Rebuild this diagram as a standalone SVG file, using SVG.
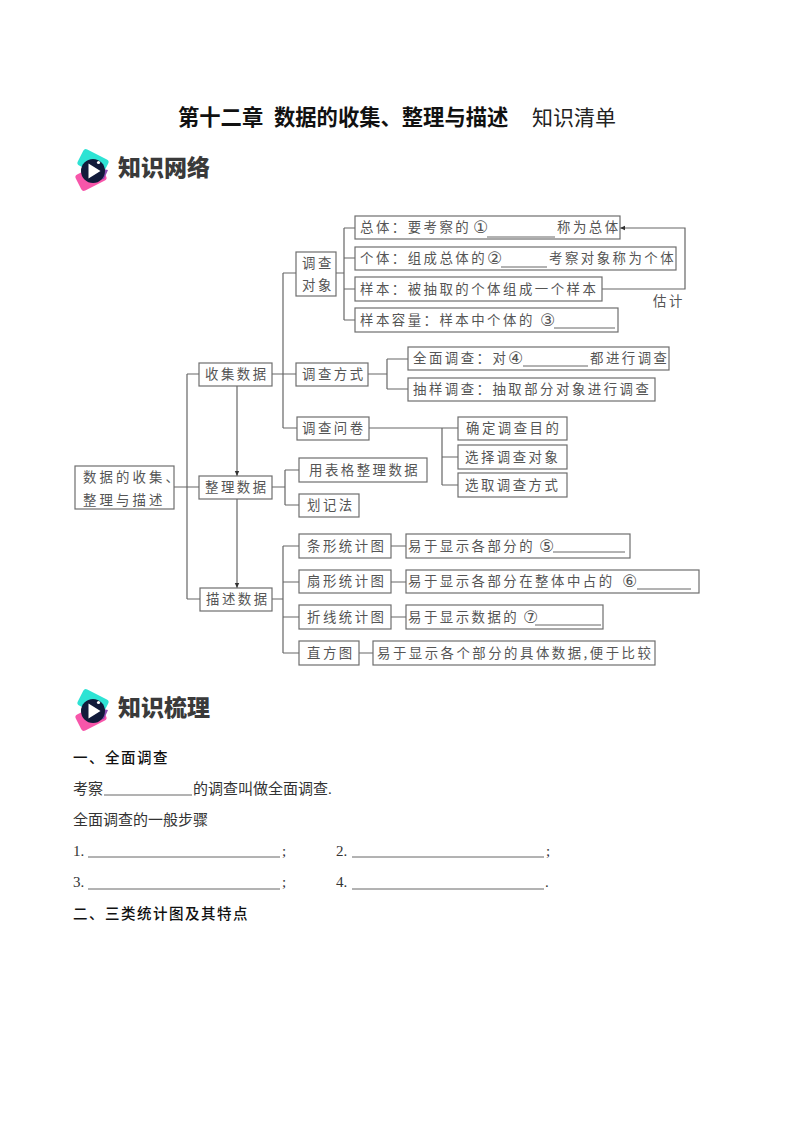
<svg xmlns="http://www.w3.org/2000/svg" xmlns:xlink="http://www.w3.org/1999/xlink" width="794" height="1123" viewBox="0 0 794 1123">
<style>
text{font-family:"Liberation Serif","Noto Sans CJK SC",serif;fill:#222}
.t{font-size:21.3px;font-weight:700;fill:#111}
.t2{font-size:21px;font-family:"Noto Sans CJK SC",sans-serif;fill:#222}
.h{font-size:23px;font-family:"Noto Sans CJK SC",sans-serif;font-weight:900;fill:#3a3a3a}
.b{font-size:14.5px;font-family:"Noto Sans CJK SC",sans-serif;font-weight:500;fill:#111;letter-spacing:1.5px}
.p{font-size:15px;font-family:"Liberation Serif","Noto Sans CJK SC",serif;fill:#333}
.n{font-size:13.4px;font-family:"Noto Sans CJK SC",sans-serif;fill:#555;letter-spacing:2.5px}
.c{font-size:17px;font-family:"DejaVu Sans",sans-serif;fill:#555}
.box{fill:#fff;stroke:#6e6e6e;stroke-width:1.2}
.ln{fill:none;stroke:#666;stroke-width:1.2}
.ul{stroke:#555;stroke-width:.9}
</style>
<defs>
<marker id="ah" markerWidth="6" markerHeight="6" refX="5" refY="3" orient="auto" markerUnits="userSpaceOnUse"><path d="M0 .8L5 3L0 5.2z" fill="#333"/></marker>
<g id="logo">
<rect x="-14" y="-9" width="28" height="18" rx="3" transform="translate(93 162.500) rotate(27)" fill="#2ee3d4"/>
<rect x="-14" y="-9" width="28" height="18" rx="3" transform="translate(91 177.500) rotate(-27)" fill="#f756aa"/>
<path d="M97 168L108 170L104 179L93 181z" fill="#8a4db0"/>
<circle cx="93" cy="171" r="12" fill="#111a3a"/>
<path d="M88.500 163.500L100.500 171L88.500 178.500z" fill="#fff"/>
<circle cx="98.500" cy="162.500" r="1.600" fill="#fff"/>
</g>
</defs>
<rect width="794" height="1123" fill="#fff"/>
<text class="t" x="178" y="125">第十二章</text>
<text class="t" x="274" y="125">数据的收集、整理与描述</text>
<text class="t2" x="532" y="125">知识清单</text>
<g id="logo1"><use xlink:href="#logo" href="#logo"/><text class="h" x="118" y="176">知识网络</text></g>
<g id="connectors">
<path class="ln" d="M174 487H199M187 374V599M187 374H199M187 599H200"/>
<path class="ln" d="M237 386V476" marker-end="url(#ah)"/>
<path class="ln" d="M237 499V588" marker-end="url(#ah)"/>
<path class="ln" d="M272 374H296M283 273V428M283 273H296M283 428H297"/>
<path class="ln" d="M336 273H344M344 228V320M344 228H355M344 258H355M344 289H355M344 320H355"/>
<path class="ln" d="M368 374H387M387 359V389M387 359H408M387 389H408"/>
<path class="ln" d="M369 428H458M442 428V485M442 457H458M442 485H458"/>
<path class="ln" d="M272 487H285M285 470V505M285 470H299M285 505H299"/>
<path class="ln" d="M272 599H283M283 546V653M283 546H299M283 582H299M283 617H299M283 653H299"/>
<path class="ln" d="M391 546H406M391 582H406M391 617H406M359 653H373"/>
<path class="ln" d="M602 289H685V228H620" marker-end="url(#ah)"/>
</g>
<g id="root"><rect class="box" x="75" y="466" width="99" height="43"/><text class="n" x="83" y="482" style="letter-spacing:3.1px">数据的收集、</text><text class="n" x="83" y="505" style="letter-spacing:3.1px">整理与描述</text></g>
<g id="collect"><rect class="box" x="199" y="363" width="73" height="23"/><text class="n" x="205" y="379">收集数据</text></g>
<g id="organize"><rect class="box" x="199" y="476" width="73" height="23"/><text class="n" x="205" y="492">整理数据</text></g>
<g id="describe"><rect class="box" x="200" y="588" width="72" height="23"/><text class="n" x="206" y="604">描述数据</text></g>
<g id="object"><rect class="box" x="296" y="252" width="40" height="44"/><text class="n" x="302" y="268">调查</text><text class="n" x="302" y="290">对象</text></g>
<g id="method"><rect class="box" x="296" y="363" width="72" height="23"/><text class="n" x="302" y="379">调查方式</text></g>
<g id="survey"><rect class="box" x="297" y="417" width="72" height="23"/><text class="n" x="302" y="433">调查问卷</text></g>
<g id="pop"><rect class="box" x="355" y="216" width="265" height="23"/><text class="n" x="360" y="232">总体：要考察的</text><text class="c" x="473" y="233">①</text><line class="ul" x1="487" y1="237" x2="555" y2="237"/><text class="n" x="557" y="232">称为总体</text></g>
<g id="indiv"><rect class="box" x="355" y="247" width="321" height="23"/><text class="n" x="360" y="263">个体：组成总体的</text><text class="c" x="487" y="264">②</text><line class="ul" x1="501" y1="267" x2="547" y2="267"/><text class="n" x="549" y="263">考察对象称为个体</text></g>
<g id="sample"><rect class="box" x="355" y="277" width="247" height="24"/><text class="n" x="360" y="294">样本：被抽取的个体组成一个样本</text></g>
<g id="size"><rect class="box" x="355" y="308" width="263" height="24"/><text class="n" x="360" y="325">样本容量：样本中个体的</text><text class="c" x="540" y="326">③</text><line class="ul" x1="554" y1="328" x2="615" y2="328"/></g>
<g id="estimate"><text class="n" x="653" y="306">估计</text></g>
<g id="census"><rect class="box" x="408" y="347" width="261" height="23"/><text class="n" x="413" y="363">全面调查：对</text><text class="c" x="508" y="364">④</text><line class="ul" x1="523" y1="366" x2="588" y2="366"/><text class="n" x="590" y="363">都进行调查</text></g>
<g id="sampling"><rect class="box" x="408" y="378" width="247" height="23"/><text class="n" x="413" y="394">抽样调查：抽取部分对象进行调查</text></g>
<g id="q1"><rect class="box" x="458" y="417" width="109" height="23"/><text class="n" x="466" y="433">确定调查目的</text></g>
<g id="q2"><rect class="box" x="458" y="445" width="109" height="24"/><text class="n" x="465" y="462">选择调查对象</text></g>
<g id="q3"><rect class="box" x="458" y="473" width="109" height="24"/><text class="n" x="465" y="490">选取调查方式</text></g>
<g id="table"><rect class="box" x="299" y="458" width="128" height="24"/><text class="n" x="309" y="475">用表格整理数据</text></g>
<g id="tally"><rect class="box" x="299" y="494" width="60" height="23"/><text class="n" x="307" y="510">划记法</text></g>
<g id="bar"><rect class="box" x="299" y="534" width="92" height="24"/><text class="n" x="307" y="551">条形统计图</text></g>
<g id="pie"><rect class="box" x="299" y="570" width="92" height="23"/><text class="n" x="307" y="586">扇形统计图</text></g>
<g id="line"><rect class="box" x="299" y="605" width="92" height="24"/><text class="n" x="307" y="622">折线统计图</text></g>
<g id="hist"><rect class="box" x="299" y="641" width="60" height="24"/><text class="n" x="307" y="658">直方图</text></g>
<g id="bar-d"><rect class="box" x="406" y="534" width="224" height="24"/><text class="n" x="408" y="551">易于显示各部分的</text><text class="c" x="539" y="552">⑤</text><line class="ul" x1="553" y1="552" x2="625" y2="552"/></g>
<g id="pie-d"><rect class="box" x="406" y="570" width="293" height="23"/><text class="n" x="408" y="586">易于显示各部分在整体中占的</text><text class="c" x="622" y="587">⑥</text><line class="ul" x1="637" y1="589" x2="691" y2="589"/></g>
<g id="line-d"><rect class="box" x="406" y="605" width="197" height="24"/><text class="n" x="408" y="622">易于显示数据的</text><text class="c" x="523" y="623">⑦</text><line class="ul" x1="535" y1="625" x2="601" y2="625"/></g>
<g id="hist-d"><rect class="box" x="373" y="641" width="282" height="24"/><text class="n" x="377" y="658">易于显示各个部分的具体数据,便于比较</text></g>
<g id="logo2" transform="translate(0 540)"><use xlink:href="#logo" href="#logo"/><text class="h" x="118" y="176">知识梳理</text></g>
<text class="b" x="73" y="763">一、全面调查</text>
<text class="p" x="73" y="794">考察</text><line class="ul" x1="104" y1="795" x2="192" y2="795"/><text class="p" x="193" y="794">的调查叫做全面调查.</text>
<text class="p" x="73" y="825">全面调查的一般步骤</text>
<text class="p" x="73" y="856">1.</text><line class="ul" x1="88" y1="857" x2="280" y2="857"/><text class="p" x="282" y="856">;</text>
<text class="p" x="336" y="856">2.</text><line class="ul" x1="352" y1="857" x2="544" y2="857"/><text class="p" x="546" y="856">;</text>
<text class="p" x="73" y="887">3.</text><line class="ul" x1="88" y1="889" x2="280" y2="889"/><text class="p" x="282" y="887">;</text>
<text class="p" x="336" y="887">4.</text><line class="ul" x1="352" y1="889" x2="544" y2="889"/><text class="p" x="545" y="887">.</text>
<text class="b" x="73" y="919">二、三类统计图及其特点</text>
</svg>
